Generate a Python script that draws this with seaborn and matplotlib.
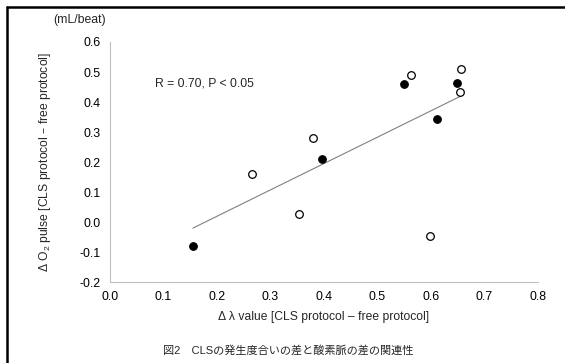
import numpy as np
import pandas as pd
import seaborn as sns
import matplotlib.pyplot as plt
from matplotlib.lines import Line2D

# data
filled_x = [0.155, 0.396, 0.550, 0.611, 0.649]
filled_y = [-0.080, 0.209, 0.460, 0.342, 0.464]
open_x = [0.265, 0.353, 0.379, 0.562, 0.599, 0.654, 0.657]
open_y = [0.159, 0.026, 0.279, 0.490, -0.046, 0.432, 0.510]

x_ticks = [0.0, 0.1, 0.2, 0.3, 0.4, 0.5, 0.6, 0.7, 0.8]
y_ticks = [-0.2, -0.1, 0.0, 0.1, 0.2, 0.3, 0.4, 0.5, 0.6]

df = pd.DataFrame({
    'x': filled_x + open_x,
    'y': filled_y + open_y,
    'group': ['filled'] * len(filled_x) + ['open'] * len(open_x),
})

sns.set_style("white")
plt.rcParams['font.family'] = ['Liberation Sans', 'Noto Sans CJK JP']
plt.rcParams['mathtext.default'] = 'regular'

fig = plt.figure(figsize=(5.65, 3.63), dpi=100)
ax = fig.add_axes([0.1947, 0.2231, 0.7575, 0.6612])

# trend line over all points
sns.regplot(data=df, x='x', y='y', scatter=False, ci=None, truncate=True,
            line_kws={'color': '#808080', 'lw': 0.8}, ax=ax)

sns.scatterplot(data=df[df.group == 'filled'], x='x', y='y', color='black',
                edgecolor='black', s=30, linewidth=0.8, ax=ax, zorder=3)
sns.scatterplot(data=df[df.group == 'open'], x='x', y='y', color='white',
                edgecolor='black', s=30, linewidth=0.9, ax=ax, zorder=3)

ax.set_xlim(0, 0.8)
ax.set_ylim(-0.2, 0.6)
ax.set_xticks(x_ticks)
ax.set_yticks(y_ticks)
ax.set_xticklabels([f'{t:.1f}' for t in x_ticks])
ax.set_yticklabels([f'{t:.1f}' for t in y_ticks])

for s in ['top', 'right']:
    ax.spines[s].set_visible(False)
for s in ['left', 'bottom']:
    ax.spines[s].set_color('#bfbfbf')
    ax.spines[s].set_linewidth(0.8)
ax.tick_params(axis='both', direction='out', length=3.5, width=0.8,
               color='#bfbfbf', labelsize=8.9, labelcolor='black', pad=3)

ax.set_xlabel('Δ λ value [CLS protocol – free protocol]', fontsize=8.7, labelpad=6)
ax.set_ylabel('Δ O$_2$ pulse [CLS protocol – free protocol]', fontsize=8.7, labelpad=19)

ax.text(0.084, 0.463, 'R = 0.70, P < 0.05', fontsize=8.7, va='center', ha='left')
fig.text(106 / 565, 1 - 20 / 363, '(mL/beat)', fontsize=8.8, ha='right', va='center')

fig.text(288 / 565, 1 - 350 / 363, '図2\u3000CLSの発生度合いの差と酸素脈の差の関連性',
         fontsize=8, ha='center', va='center')

# border of the figure box
fig.add_artist(Line2D([7 / 565, 7 / 565], [0, 1 - 6.5 / 363], color='black', lw=1.8))
fig.add_artist(Line2D([7 / 565, 1], [1 - 6.5 / 363, 1 - 6.5 / 363], color='black', lw=1.8))

fig.savefig('out.png', dpi=100)
